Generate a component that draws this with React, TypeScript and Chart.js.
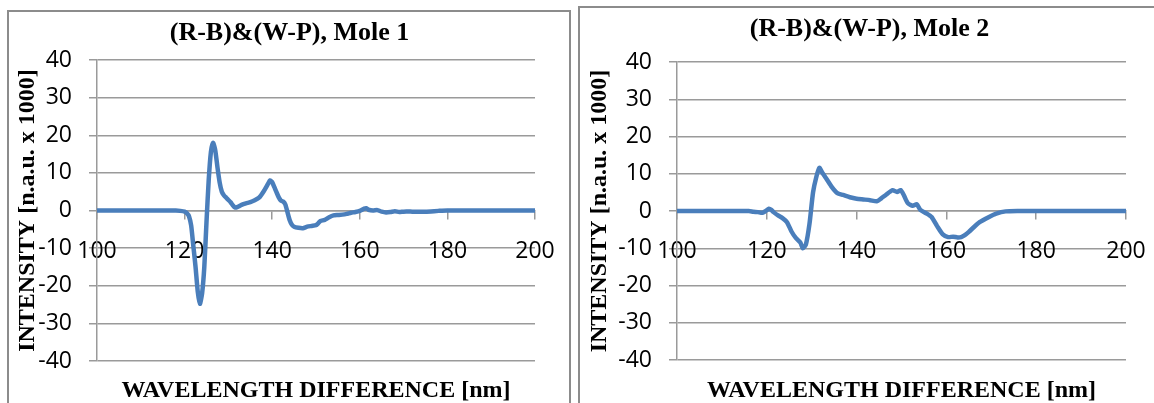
import React, { useEffect, useRef } from "react";
import { Chart, registerables } from "chart.js";

Chart.register(...registerables);

// ---------- data ----------
const chartTitles = ["(R-B)&(W-P), Mole 1", "(R-B)&(W-P), Mole 2"];
const xAxisTitle = "WAVELENGTH DIFFERENCE [nm]";
const yAxisTitle = "INTENSITY [n.a.u. x 1000]";

const xMin = 100;
const xMax = 200;
const xStep = 20;
const yMin = -40;
const yMax = 40;
const yStep = 10;

const mole1Wavelength = [
  100, 110, 115, 118, 119, 120, 120.5, 121, 121.5, 122, 122.5, 123, 123.5, 124, 124.5, 125, 125.5,
  126, 126.5, 127, 127.5, 128, 128.5, 129, 129.5, 130, 130.5, 131, 131.5, 132, 133, 134, 135, 136,
  137, 138, 139, 139.5, 140, 140.5, 141, 141.5, 142, 142.5, 143, 143.5, 144, 144.5, 145, 146, 147,
  148, 149, 150, 150.5, 151, 152, 153, 154, 155, 156, 157, 158, 159, 160, 161, 161.5, 162, 163, 164,
  165, 166, 167, 168, 169, 170, 172, 175, 178, 180, 190, 200,
];
const mole1Intensity = [
  0, 0, 0, 0, -0.1, -0.3, -0.7, -1.5, -4, -9.5, -15, -21.5, -24.8, -22, -15, -3, 8,
  15.5, 18, 16, 11.5, 7.5, 5, 4, 3.4, 2.8, 2.2, 1.4, 0.8, 0.9, 1.5, 1.9, 2.2, 2.7,
  3.4, 5, 7, 8, 7.5, 6.2, 4.8, 3.5, 2.6, 2.4, 1.6, -0.5, -2.6, -3.8, -4.3, -4.6, -4.7,
  -4.3, -4.1, -3.9, -3.4, -2.8, -2.5, -1.8, -1.3, -1.2, -1.1, -0.9, -0.6, -0.4, -0.1, 0.5, 0.6, 0.2, 0, 0.1,
  -0.3, -0.5, -0.4, -0.2, -0.4, -0.3, -0.3, -0.3, -0.1, 0, 0, 0,
];

const mole2Wavelength = [
  100, 110, 116, 117, 118, 119, 119.5, 120.5, 121, 121.5, 122.5, 123.5, 124.5, 125.5, 126.5, 127.5,
  128, 128.7, 129.5, 130.3, 131, 131.7, 132.4, 133.2, 134.5, 135.7, 137, 138.5, 140, 141.5, 143,
  144.5, 145.5, 146.5, 148, 149, 149.8, 150.5, 151.4, 152.5, 153.4, 154.2, 155.5, 156.7, 157.9,
  159.2, 160.4, 161.5, 162.5, 163.3, 164.1, 165, 165.8, 167.4, 169.5, 171.1, 173.2, 176, 180, 200,
];
const mole2Intensity = [
  0, 0, 0, -0.2, -0.3, -0.5, -0.2, 0.6, 0.3, -0.3, -1.2, -1.9, -3, -5.5, -7.3, -8.5,
  -10, -9, -3.5, 5, 9, 11.6, 10.2, 8.8, 6.4, 4.8, 4.3, 3.7, 3.3, 3.1, 2.9,
  2.6, 3.4, 4.3, 5.6, 5.1, 5.6, 4.3, 2.1, 1.4, 1.8, 0.3, -0.6, -1.6, -4,
  -6.3, -7, -6.9, -7.1, -7, -6.5, -5.6, -4.7, -3, -1.6, -0.7, -0.1, 0, 0, 0,
];

// ---------- layout ----------
const CANVAS_H = 420;
const TITLE_SIZE = 26;
const AXIS_TITLE_SIZE = 24;
const TICK_SIZE = 23;

type Geom = {
  left: number;
  width: number;
  padLeft: number;
  areaLeft: number;
  areaRight: number;
  areaTop: number;
  areaBottom: number;
  titleCenterY: number;
  yTitleX: number;
  xTitleY: number;
};

const geoms: Geom[] = [
  { left: 0, width: 575, padLeft: 4, areaLeft: 97, areaRight: 535, areaTop: 60, areaBottom: 361, titleCenterY: 33, yTitleX: 27.5, xTitleY: 391 },
  { left: 575, width: 579, padLeft: 10, areaLeft: 677, areaRight: 1126, areaTop: 62, areaBottom: 360, titleCenterY: 29, yTitleX: 599.5, xTitleY: 391 },
];

const GRID = "#9a9a9a";
const LINE = "#4A7EBB";

function makeConfig(g: Geom, xs: number[], ys: number[], title: string): any {
  const titleLH = TITLE_SIZE * 1.2;
  const axLH = AXIS_TITLE_SIZE * 1.2;
  const tTop = g.titleCenterY - titleLH / 2;
  const tBottom = g.areaTop - tTop - titleLH;
  const yWidth = g.areaLeft - g.left - g.padLeft;
  const yTitlePad = Math.max(0, g.yTitleX - (g.left + g.padLeft) - axLH / 2);
  const rightWidth = g.left + g.width - g.areaRight;
  const xTitleHeight = CANVAS_H - g.areaBottom;
  const xTitlePadBottom = CANVAS_H - g.xTitleY - axLH / 2;
  const tickLH = 2.6;

  return {
    type: "line",
    data: {
      datasets: [
        {
          data: xs.map((x, i) => ({ x, y: ys[i] })),
          borderColor: LINE,
          borderWidth: 4.5,
          pointRadius: 0,
          tension: 0.2,
          borderJoinStyle: "round",
          borderCapStyle: "round",
          fill: false,
        },
      ],
    },
    options: {
      animation: false,
      responsive: false,
      maintainAspectRatio: false,
      layout: { padding: { left: g.padLeft, right: 0, top: 0, bottom: 0 } },
      plugins: {
        legend: { display: false },
        tooltip: { enabled: false },
        title: {
          display: true,
          text: title,
          color: "#000",
          font: { family: "'Liberation Serif', 'Times New Roman', serif", size: TITLE_SIZE, weight: "bold", lineHeight: 1.2 },
          padding: { top: tTop, bottom: tBottom },
        },
      },
      scales: {
        x: {
          type: "linear",
          min: xMin,
          max: xMax,
          position: { y: 0 },
          ticks: {
            stepSize: xStep,
            color: "#000",
            padding: 3,
            maxRotation: 0,
            font: { family: "'Open Sans', 'Liberation Sans', sans-serif", size: TICK_SIZE, lineHeight: tickLH },
          },
          grid: { drawOnChartArea: false, drawTicks: true, tickLength: 8, color: GRID, lineWidth: 1.5 },
          border: { display: true, color: GRID, width: 1.5 },
        },
        xTitle: {
          type: "linear",
          min: xMin,
          max: xMax,
          position: "bottom",
          ticks: { display: false },
          grid: { display: false, drawTicks: false },
          border: { display: false },
          title: {
            display: true,
            text: xAxisTitle,
            color: "#000",
            font: { family: "'Liberation Serif', 'Times New Roman', serif", size: AXIS_TITLE_SIZE, weight: "bold", lineHeight: 1.2 },
            padding: { top: 0, bottom: xTitlePadBottom },
          },
          afterFit: (s: any) => {
            s.height = xTitleHeight;
          },
        },
        y: {
          type: "linear",
          min: yMin,
          max: yMax,
          position: "left",
          ticks: {
            stepSize: yStep,
            color: "#000",
            padding: 17,
            font: { family: "'Open Sans', 'Liberation Sans', sans-serif", size: TICK_SIZE, lineHeight: 1.2 },
          },
          grid: { color: GRID, lineWidth: 1.5, drawTicks: true, tickLength: 8 },
          border: { display: true, color: GRID, width: 1.5 },
          title: {
            display: true,
            text: yAxisTitle,
            color: "#000",
            font: { family: "'Liberation Serif', 'Times New Roman', serif", size: AXIS_TITLE_SIZE, weight: "bold", lineHeight: 1.2 },
            padding: { top: yTitlePad, bottom: 0 },
          },
          afterFit: (s: any) => {
            s.width = yWidth;
          },
        },
        yPad: {
          type: "linear",
          position: "right",
          display: false,
          afterFit: (s: any) => {
            s.width = rightWidth;
          },
        },
      },
    },
  };
}

export default function App() {
  const ref1 = useRef<HTMLCanvasElement | null>(null);
  const ref2 = useRef<HTMLCanvasElement | null>(null);

  useEffect(() => {
    const charts: Chart[] = [];
    const series = [
      { xs: mole1Wavelength, ys: mole1Intensity },
      { xs: mole2Wavelength, ys: mole2Intensity },
    ];
    [ref1, ref2].forEach((r, i) => {
      if (!r.current) return;
      charts.push(new Chart(r.current, makeConfig(geoms[i], series[i].xs, series[i].ys, chartTitles[i])));
    });
    return () => charts.forEach((c) => c.destroy());
  }, []);

  const border = "2px solid #8c8c8c";

  return (
    <div style={{ position: "fixed", left: 0, top: 0, width: 1154, height: 403, overflow: "hidden", background: "#fff" }}>
      <canvas
        ref={ref1}
        width={geoms[0].width}
        height={CANVAS_H}
        style={{ position: "absolute", left: geoms[0].left, top: 0, width: geoms[0].width, height: CANVAS_H }}
      />
      <canvas
        ref={ref2}
        width={geoms[1].width}
        height={CANVAS_H}
        style={{ position: "absolute", left: geoms[1].left, top: 0, width: geoms[1].width, height: CANVAS_H }}
      />
      <div style={{ position: "absolute", left: 7, top: 10, width: 560, height: 420, borderLeft: border, borderTop: border, borderRight: border, pointerEvents: "none" }} />
      <div style={{ position: "absolute", left: 578, top: 6, width: 600, height: 420, borderLeft: border, borderTop: border, pointerEvents: "none" }} />
    </div>
  );
}
